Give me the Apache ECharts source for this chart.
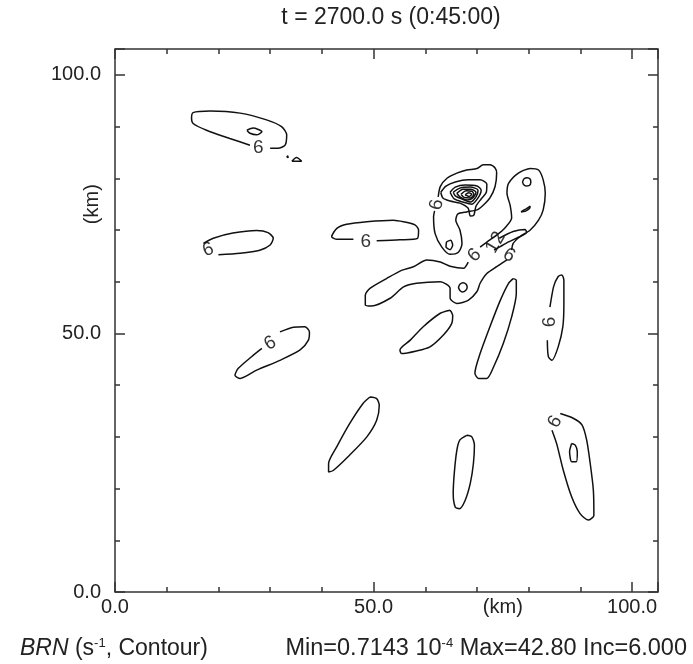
<!DOCTYPE html>
<html><head><meta charset="utf-8">
<script src="https://cdn.jsdelivr.net/npm/echarts@6/dist/echarts.min.js"></script>
<style>html,body{margin:0;padding:0;background:#fff}#c{width:693px;height:664px}</style>
</head><body><div id="c"></div>
<script>
// ---------- text / axis data ----------
const titleText = 't = 2700.0 s (0:45:00)';
const axisMin = 0, axisMax = 105;
const majorInterval = 50, minorInterval = 10, labelInterval = 25;
const tickValues = [0, 50, 100];
const tickLabels = ['0.0', '50.0', '100.0'];
const unitValue = 75, unitLabel = '(km)';
const fieldName = 'BRN';
const fieldUnitNote = ['(s', '-1', ', Contour)'];
const statsText = ['Min=0.7143 10', '-4', ' Max=42.80 Inc=6.000'];

// ---------- contour lines (km, km) ----------
const cTopLeft = [[30.0,85.8],[31.5,85.8],[32.9,86.4],[33.2,88.4],[32.2,90.0],[29.3,91.3],[24.2,92.6],[18.4,93.0],[15.1,92.7],[14.8,91.6],[15.1,90.6],[17.7,89.3],[22.2,87.7],[26.1,86.4]];
const cTopLeftCore = [[25.5,89.3],[26.7,89.7],[28.4,89.0],[27.4,88.4],[26.1,88.7],[25.5,89.3]];
const cSpotA = [[34.2,83.3],[35.1,84.0],[36.1,83.3],[34.2,83.3]];
const cSpotB = [[33.2,84.1],[33.4,84.3],[33.5,84.0],[33.2,84.1]];
const cWest = [[20.0,65.2],[24.2,65.5],[28.0,66.1],[30.0,67.1],[30.6,68.4],[29.6,69.5],[27.4,69.9],[22.8,69.4],[19.0,68.4],[17.1,67.4]];
const cCenterNorth = [[50.6,67.9],[55.1,68.1],[58.5,68.4],[58.7,70.0],[58.0,71.0],[55.8,71.6],[53.8,71.9],[48.7,71.6],[44.8,71.1],[42.9,70.3],[41.9,68.7],[42.9,68.2],[46.1,68.2]];
const cSouthWest = [[31.9,50.3],[34.5,51.2],[36.7,51.3],[37.6,50.3],[37.4,48.7],[35.8,46.8],[31.9,44.8],[27.4,42.9],[24.2,41.3],[23.2,41.9],[23.8,43.2],[26.4,45.5],[28.4,47.1]];
const cSouthA = [[49.3,37.7],[50.6,37.4],[51.1,36.1],[50.6,33.2],[48.7,30.0],[45.4,26.5],[42.2,23.5],[41.3,23.2],[41.3,24.8],[42.9,28.1],[45.4,32.6],[48.0,36.5],[49.3,37.7]];
const cSouthB = [[68.0,30.3],[69.0,30.0],[69.5,28.4],[69.3,24.8],[68.7,21.0],[67.7,17.7],[66.6,16.1],[65.8,16.4],[65.4,19.0],[65.6,22.9],[66.1,27.4],[66.7,29.4],[68.0,30.3]];
const cSouthEast = [[86.1,34.5],[88.6,33.6],[90.3,32.3],[91.2,29.4],[91.9,24.8],[92.5,19.7],[92.6,14.8],[91.5,13.9],[89.9,15.2],[88.3,18.4],[86.7,23.5],[85.4,28.7],[84.5,31.3]];
const cSouthEastCore = [[88.3,28.7],[89.0,28.4],[89.4,27.1],[89.2,25.2],[88.3,25.2],[87.9,27.1],[88.3,28.7]];
const cEast = [[83.6,48.7],[83.8,45.5],[84.5,44.8],[85.7,47.4],[86.6,51.3],[86.8,55.8],[86.8,60.3],[86.4,61.3],[85.7,61.0],[84.8,59.0],[84.1,55.1]];
const cBandEast = [[77.0,60.6],[77.6,60.3],[77.6,57.7],[76.7,53.2],[75.1,48.1],[73.2,43.5],[71.9,41.3],[70.3,41.3],[69.6,42.3],[70.6,46.1],[72.5,51.3],[74.5,56.4],[76.1,59.7],[77.0,60.6]];
const cBandMid = [[64.8,54.5],[65.3,53.5],[65.1,51.9],[63.5,49.7],[60.9,47.4],[58.3,46.6],[55.4,46.1],[55.1,46.8],[57.1,48.7],[59.6,51.3],[62.9,53.9],[64.8,54.5]];
const cBandLower = [[75.8,64.2],[73.8,62.9],[71.9,61.6],[70.6,59.7],[70.0,58.1],[68.3,56.4],[66.1,55.8],[64.8,56.8],[64.8,58.7],[62.9,60.0],[58.3,59.7],[55.8,59.0],[53.2,56.8],[49.6,55.3],[48.4,55.5],[48.4,57.4],[49.3,58.7],[52.5,60.6],[55.4,62.2],[57.7,62.9],[60.3,64.2],[62.9,63.8],[64.8,63.0],[67.4,62.6],[68.3,63.8]];
const cRightArc = [[70.6,66.7],[72.5,68.1],[73.8,69.0],[75.4,70.4],[76.7,72.3],[76.4,74.8],[75.8,77.1],[76.1,79.0],[78.0,81.0],[80.3,81.9],[81.9,81.6],[82.8,79.7],[83.2,77.1],[82.8,73.9],[81.9,71.9],[80.3,70.0],[78.3,68.7],[77.0,67.4],[76.7,66.1]];
const cRightRing = [[78.8,79.3],[79.1,79.9],[79.7,80.1],[80.3,79.8],[80.4,79.2],[80.1,78.6],[79.5,78.5],[79.0,78.8],[78.8,79.3]];
const cRightSliver = [[78.5,73.5],[79.5,74.1],[80.3,74.6],[80.1,74.1],[79.3,73.6],[78.5,73.5]];
const cBand12 = [[74.3,68.4],[77.0,69.7],[79.3,70.1],[79.6,69.5],[78.0,68.6],[76.1,67.7],[74.5,66.8],[73.3,66.1]];
const cBandHole = [[66.4,58.9],[66.7,59.5],[67.3,59.8],[67.9,59.5],[68.1,58.9],[67.8,58.3],[67.2,58.0],[66.7,58.3],[66.4,58.9]];
const cCoreOuter = [[62.5,76.4],[62.9,78.4],[64.2,80.0],[66.1,81.0],[68.0,81.6],[70.0,81.9],[71.2,82.6],[72.5,82.6],[73.5,82.0],[73.8,81.0],[73.5,78.4],[72.5,76.2],[71.2,74.8],[70.0,73.9],[68.0,73.5],[66.3,73.1],[65.9,71.9],[66.7,70.0],[67.1,67.4],[66.4,65.7],[64.8,65.3],[63.2,66.7],[61.9,69.3],[61.6,72.6],[61.8,73.7]];
const cHookSpot = [[64.1,67.7],[64.9,68.0],[65.3,67.1],[64.8,66.2],[64.0,66.7],[64.1,67.7]];
const cCore12 = [[63.0,77.3],[64.0,78.5],[65.8,79.3],[68.3,79.7],[70.6,79.7],[71.9,78.9],[71.8,77.3],[70.8,76.0],[69.8,74.6],[69.4,72.9],[68.7,72.7],[68.3,74.2],[66.7,75.2],[64.8,75.6],[63.4,76.2],[63.0,77.3]];
const cCore18 = [[64.8,77.3],[65.8,78.3],[67.7,78.7],[70.0,78.5],[70.8,77.7],[70.2,76.2],[69.0,75.0],[67.3,75.4],[65.6,76.0],[64.8,77.3]];
const cCore24 = [[65.4,77.3],[66.7,78.1],[68.7,78.3],[70.2,77.7],[69.8,76.4],[68.7,75.4],[67.1,76.0],[65.8,76.6],[65.4,77.3]];
const cCore30 = [[66.1,77.1],[67.3,77.9],[68.8,77.9],[69.8,77.3],[69.2,76.2],[68.1,75.8],[66.7,76.4],[66.1,77.1]];
const cCore36 = [[66.9,76.9],[67.9,77.6],[69.0,77.5],[69.4,76.9],[68.7,76.2],[67.5,76.3],[66.9,76.9]];
const cCore42 = [[67.7,76.8],[68.4,77.2],[69.0,76.9],[68.5,76.5],[67.7,76.8]];

const contourLines = [cTopLeft, cTopLeftCore, cSpotA, cSpotB, cWest, cCenterNorth, cSouthWest, cSouthA, cSouthB,
  cSouthEast, cSouthEastCore, cEast, cBandEast, cBandMid, cBandLower, cRightArc, cRightRing, cRightSliver,
  cBand12, cBandHole, cCoreOuter, cHookSpot, cCore12, cCore18, cCore24, cCore30, cCore36, cCore42];

// contour labels: [x, y, text]
const contourLabels = [[27.7,85.9,'6'],[18.0,66.2,'6'],[48.5,67.8,'6'],[30.0,48.1,'6'],[85.1,32.9,'6'],
  [84.1,52.2,'6'],[69.5,65.1,'6'],[76.2,65.1,'6'],[62.2,74.9,'6'],[73.6,67.6,'12']];
const contourLabelAngles = [0, 20, 0, 30, 60, 90, 45, -30, 80, 60];

// ---------- chart ----------
const FONT = '"Liberation Sans", Arial, Helvetica, sans-serif';
const INK = '#222';
const tickStyle = {color: '#333', width: 1.5};
function fmtTick(v) {
  const i = tickValues.indexOf(v);
  if (i >= 0) return tickLabels[i];
  return v === unitValue ? unitLabel : '';
}
function tickAxis(pos, interval, len) {
  return {type: 'value', min: axisMin, max: axisMax, interval: interval, position: pos,
    axisLine: {show: false, onZero: false}, splitLine: {show: false},
    axisTick: {show: true, inside: true, length: len, lineStyle: tickStyle},
    axisLabel: {show: false}};
}
const xAxes = [
  tickAxis('bottom', majorInterval, 10), tickAxis('bottom', minorInterval, 5),
  tickAxis('top', majorInterval, 10), tickAxis('top', minorInterval, 5),
  {type: 'value', min: axisMin, max: axisMax, interval: labelInterval, position: 'bottom',
    axisLine: {show: false, onZero: false}, axisTick: {show: false}, splitLine: {show: false},
    axisLabel: {show: true, margin: 5, fontSize: 20, fontFamily: FONT, color: INK, formatter: fmtTick,
      showMaxLabel: false}}
];
const yAxes = [
  tickAxis('left', majorInterval, 10), tickAxis('left', minorInterval, 5),
  tickAxis('right', majorInterval, 10), tickAxis('right', minorInterval, 5),
  {type: 'value', min: axisMin, max: axisMax, interval: majorInterval, position: 'left',
    axisLine: {show: false, onZero: false}, axisTick: {show: false}, splitLine: {show: false},
    axisLabel: {show: true, margin: 14, fontSize: 20, fontFamily: FONT, color: INK, formatter: fmtTick,
      showMaxLabel: false}},
  {type: 'value', min: axisMin, max: axisMax, interval: labelInterval, position: 'left',
    axisLine: {show: false, onZero: false}, axisTick: {show: false}, splitLine: {show: false},
    axisLabel: {show: true, margin: 13, rotate: 90, fontSize: 20, fontFamily: FONT, color: INK,
      formatter: v => (v === unitValue ? unitLabel : ''), showMaxLabel: false}}
];

const series = contourLines.map(pts => ({
  type: 'line', data: pts, xAxisIndex: 0, yAxisIndex: 0, showSymbol: false, symbol: 'none',
  smooth: 0.25, silent: true, animation: false,
  lineStyle: {color: '#111', width: 1.5}
}));
series.push({
  type: 'scatter', xAxisIndex: 0, yAxisIndex: 0, symbolSize: 0, silent: true, animation: false,
  data: contourLabels.map((d, i) => ({value: [d[0], d[1]], name: d[2],
    label: {rotate: contourLabelAngles[i]}})),
  label: {show: true, position: 'inside', formatter: p => p.name, fontSize: 19, fontFamily: FONT, color: '#000'}
});

const chart = echarts.init(document.getElementById('c'), null, {renderer: 'canvas'});
chart.setOption({
  backgroundColor: '#fff',
  animation: false,
  title: [
    {text: titleText, left: 386, top: 1, textAlign: 'center',
      textStyle: {fontSize: 23, fontWeight: 'normal', fontFamily: FONT, color: INK}},
    {text: '{i|' + fieldName + '} ' + fieldUnitNote[0] + '{s|' + fieldUnitNote[1] + '}' + fieldUnitNote[2],
      left: 15, top: 632,
      textStyle: {fontSize: 23, fontWeight: 'normal', fontFamily: FONT, color: INK,
        rich: {i: {fontStyle: 'italic', fontSize: 23, fontFamily: FONT, color: INK},
               s: {fontSize: 13, fontFamily: FONT, color: INK, verticalAlign: 'top'}}}},
    {text: statsText[0] + '{s|' + statsText[1] + '}' + statsText[2],
      right: 1, top: 632,
      textStyle: {fontSize: 23.5, fontWeight: 'normal', fontFamily: FONT, color: INK,
        rich: {s: {fontSize: 13, fontFamily: FONT, color: INK, verticalAlign: 'top'}}}}
  ],
  grid: {left: 115, top: 49, width: 543, height: 543, show: true, borderColor: '#333', borderWidth: 1.5,
    backgroundColor: 'transparent', containLabel: false, outerBoundsMode: 'none'},
  xAxis: xAxes,
  yAxis: yAxes,
  series: series
});
</script></body></html>
